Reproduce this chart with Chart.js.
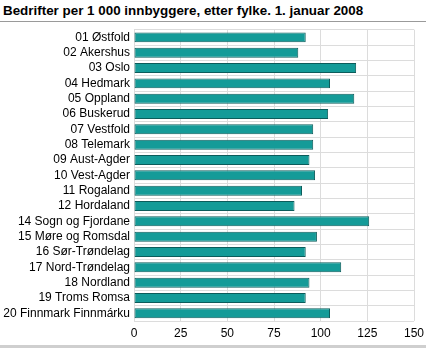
<!DOCTYPE html>
<html>
<head>
<meta charset="utf-8">
<script src="https://cdn.jsdelivr.net/npm/chart.js@4/dist/chart.umd.min.js"></script>
<style>
  body { margin: 0; background: #fff; font-family: "Liberation Sans", Arial, sans-serif; }
  #title { position: absolute; left: 3px; top: 3px; font-size: 13.4px; font-weight: bold; color: #000; }
  #rule { position: absolute; left: 0; top: 21px; width: 426px; height: 1px; background: #9a9a9a; }
  #wrap { position: absolute; left: 0; top: 22px; width: 426px; height: 323px; }
  #foot { position: absolute; left: 0; top: 345px; width: 426px; height: 3px; background: #cfcfcf; }
</style>
</head>
<body>
<div id="title">Bedrifter per 1 000 innbyggere, etter fylke. 1. januar 2008</div>
<div id="rule"></div>
<div id="wrap"><canvas id="fylkeChart"></canvas></div>
<div id="foot"></div>
<script>
// Fylker
const fylker = [
    '01 Østfold',
    '02 Akershus',
    '03 Oslo',
    '04 Hedmark',
    '05 Oppland',
    '06 Buskerud',
    '07 Vestfold',
    '08 Telemark',
    '09 Aust-Agder',
    '10 Vest-Agder',
    '11 Rogaland',
    '12 Hordaland',
    '14 Sogn og Fjordane',
    '15 Møre og Romsdal',
    '16 Sør-Trøndelag',
    '17 Nord-Trøndelag',
    '18 Nordland',
    '19 Troms Romsa',
    '20 Finnmark Finnmárku'
]

// Bedrifter per 1 000 innbyggere
const bedrifter = [92, 88, 119, 105, 118, 104, 96, 96, 94, 97, 90, 86, 126, 98, 92, 111, 94, 92, 105]

// x-akse
const xTicks = [0, 25, 50, 75, 100, 125, 150]

const ctx = document.getElementById('fylkeChart')
// eslint-disable-next-line no-unused-vars
const myChart = new Chart(ctx, {
    type: 'bar',
    data: {
        labels: fylker,
        datasets: [{
            data: bedrifter,
            backgroundColor: '#149b98',
            borderColor: '#0c5c5b',
            borderWidth: 1,
            borderSkipped: false,
            categoryPercentage: 1,
            barPercentage: 0.65
        }]
    },
    options: {
        indexAxis: 'y',
        responsive: true,
        maintainAspectRatio: false,
        animation: false,
        layout: {
            padding: {top: 7.7, right: 12, bottom: 0, left: 2}
        },
        plugins: {
            legend: {display: false},
            tooltip: {enabled: false}
        },
        scales: {
            x: {
                min: xTicks[0],
                max: xTicks[xTicks.length - 1],
                afterBuildTicks: function (scale) {
                    scale.ticks = xTicks.map(v => ({value: v}))
                },
                afterFit: function (scale) {
                    // fixed height, no extra room for the end labels
                    scale.height = 24
                    scale.paddingLeft = 0
                    scale.paddingRight = 0
                },
                grid: {color: '#dcdcdc', drawTicks: false},
                border: {display: false},
                ticks: {
                    color: '#000',
                    padding: 5,
                    font: {family: 'Liberation Sans', size: 12}
                }
            },
            y: {
                grid: {color: '#dcdcdc', drawTicks: false},
                border: {display: false},
                afterFit: function (scale) {
                    scale.width = 132
                    scale.paddingTop = 0
                    scale.paddingBottom = 0
                },
                ticks: {
                    color: '#000',
                    padding: 4,
                    autoSkip: false,
                    font: {family: 'Liberation Sans', size: 12}
                }
            }
        }
    }
})
</script>
</body>
</html>
